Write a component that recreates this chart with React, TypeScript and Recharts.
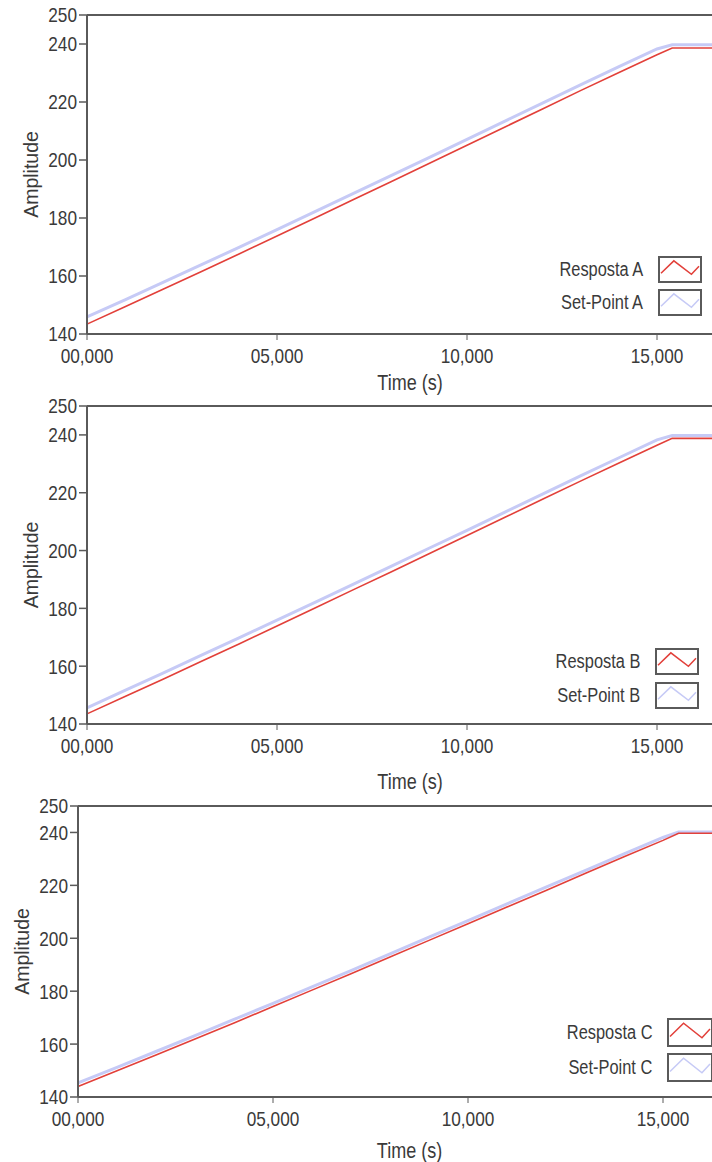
import React from 'react';
import { LineChart, Line, XAxis, YAxis, ReferenceLine, Legend } from 'recharts';

// Time axis (s)
const timeS = [0, 1, 2, 3, 4, 5, 6, 7, 8, 9, 10, 11, 12, 13, 14, 15, 15.4, 17];

const respostaA = [143.4, 149.4, 155.4, 161.5, 167.6, 173.8, 180.0, 186.3, 192.5, 198.8, 205.1, 211.4, 217.7, 224.0, 230.2, 236.3, 238.6, 238.6];
const setPointA = [145.9, 151.8, 157.8, 163.8, 169.9, 176.0, 182.2, 188.4, 194.6, 200.8, 207.1, 213.4, 219.7, 226.0, 232.2, 238.3, 239.7, 239.7];

const respostaB = [143.5, 149.5, 155.5, 161.6, 167.7, 173.9, 180.1, 186.4, 192.6, 198.9, 205.2, 211.5, 217.8, 224.1, 230.3, 236.4, 238.8, 238.8];
const setPointB = [145.6, 151.6, 157.6, 163.7, 169.8, 175.9, 182.1, 188.3, 194.5, 200.8, 207.0, 213.3, 219.6, 225.9, 232.1, 238.3, 239.8, 239.8];

const respostaC = [144.0, 149.9, 155.9, 161.9, 168.0, 174.2, 180.4, 186.6, 192.9, 199.2, 205.5, 211.8, 218.1, 224.5, 230.8, 237.0, 239.7, 239.7];
const setPointC = [145.3, 151.2, 157.2, 163.2, 169.3, 175.4, 181.6, 187.8, 194.1, 200.4, 206.7, 213.0, 219.3, 225.6, 231.9, 238.1, 240.2, 240.2];

const yTicks = [140, 160, 180, 200, 220, 240, 250];
const xTicks = [0, 5, 10, 15];
const xTickLabels = ['00,000', '05,000', '10,000', '15,000'];

const FONT = "'Liberation Sans', Arial, sans-serif";
const SQ = 0.82; // horizontal condensing of the lettering
const TEXT = '#3a3a3a';
const AXIS = '#5a5a5a';
const RED = '#e2403a';
const BLUE = '#c6caf6';

type PanelProps = {
  letter: string;
  resp: number[];
  sp: number[];
  top: number;
  width: number;
  height: number;
  marginTop: number;
  xAxisHeight: number;
  yWidth: number;
  timeOffset: number;
  ampX: number;
  legLeft: number;
  legTop: number;
  legPitch: number;
  legTextW: number;
  legBoxW: number;
  legBoxH: number;
};

const XTick = (props: any) => {
  const { x, y, payload } = props;
  const label = xTickLabels[xTicks.indexOf(payload.value)] ?? String(payload.value);
  return (
    <text transform={`translate(${x} ${y}) scale(${SQ} 1)`} textAnchor="middle" dy="0.71em" fill={TEXT} fontSize={21} fontFamily={FONT}>
      {label}
    </text>
  );
};

const YTick = (props: any) => {
  const { x, y, payload } = props;
  return (
    <text transform={`translate(${x} ${y}) scale(${SQ} 1)`} textAnchor="end" dy="0.355em" fill={TEXT} fontSize={21} fontFamily={FONT}>
      {payload.value}
    </text>
  );
};

const timeLabel = (offset: number) => (props: any) => {
  const vb = props.viewBox || {};
  const cx = vb.x + vb.width / 2;
  const cy = vb.y + vb.height - offset;
  return (
    <text transform={`translate(${cx} ${cy}) scale(${SQ} 1)`} textAnchor="middle" fill={TEXT} fontSize={22} fontFamily={FONT}>
      Time (s)
    </text>
  );
};

const ampLabel = (ax: number) => (props: any) => {
  const vb = props.viewBox || {};
  const cy = vb.y + vb.height / 2;
  return (
    <text transform={`translate(${ax} ${cy}) rotate(-90)`} textAnchor="middle" dy="0.36em" fill={TEXT} fontSize={19.5} fontFamily={FONT}>
      Amplitude
    </text>
  );
};

function makeLegend(p: PanelProps) {
  return (props: any) => {
    const items = [...(props.payload || [])].sort((a: any, b: any) => (a.value < b.value ? -1 : 1));
    return (
      <div style={{ fontFamily: FONT }}>
        {items.map((it: any, i: number) => (
          <div key={i} style={{ display: 'flex', alignItems: 'center', height: p.legPitch }}>
            <div style={{ width: p.legTextW - 15, marginRight: 15, textAlign: 'right', whiteSpace: 'nowrap', fontSize: 20, color: TEXT }}>
              <span style={{ display: 'inline-block', transform: `scaleX(${SQ})`, transformOrigin: '100% 50%' }}>{it.value}</span>
            </div>
            <svg width={p.legBoxW} height={p.legBoxH} style={{ display: 'block', flex: 'none' }}>
              <rect x={1} y={1} width={p.legBoxW - 2} height={p.legBoxH - 2} fill="#fff" stroke={AXIS} strokeWidth={2} />
              <polyline
                points={`3,${p.legBoxH * 0.64} ${p.legBoxW * 0.36},${p.legBoxH * 0.18} ${p.legBoxW * 0.76},${p.legBoxH * 0.68} ${p.legBoxW - 3},${p.legBoxH * 0.38}`}
                fill="none"
                stroke={it.color}
                strokeWidth={1.5}
              />
            </svg>
          </div>
        ))}
      </div>
    );
  };
}

function Panel(p: PanelProps) {
  const data = timeS.map((t, i) => ({ t, r: p.resp[i], s: p.sp[i] }));
  return (
    <div style={{ position: 'absolute', left: 0, top: p.top, width: p.width, height: p.height }}>
      <LineChart width={p.width} height={p.height} data={data} margin={{ top: p.marginTop, right: 0, bottom: 0, left: 0 }}>
        <XAxis
          dataKey="t"
          type="number"
          domain={[0, 17]}
          ticks={xTicks}
          height={p.xAxisHeight}
          axisLine={{ stroke: AXIS, strokeWidth: 2 }}
          tickLine={{ stroke: AXIS, strokeWidth: 1 }}
          tickSize={6}
          tickMargin={8}
          tick={<XTick />}
          label={{ content: timeLabel(p.timeOffset) }}
        />
        <YAxis
          type="number"
          domain={[140, 250]}
          ticks={yTicks}
          interval={0}
          width={p.yWidth}
          axisLine={{ stroke: AXIS, strokeWidth: 2 }}
          tickLine={{ stroke: AXIS, strokeWidth: 1.5 }}
          tickSize={8}
          tickMargin={2}
          tick={<YTick />}
          label={{ content: ampLabel(p.ampX) }}
        />
        <ReferenceLine y={250} stroke={AXIS} strokeWidth={2} />
        <Line name={`Set-Point ${p.letter}`} dataKey="s" type="linear" stroke={BLUE} strokeWidth={3} dot={false} isAnimationActive={false} />
        <Line name={`Resposta ${p.letter}`} dataKey="r" type="linear" stroke={RED} strokeWidth={1.6} dot={false} isAnimationActive={false} />
        <Legend
          layout="horizontal"
          verticalAlign="middle"
          align="center"
          content={makeLegend(p)}
          wrapperStyle={{ left: p.legLeft, top: p.legTop, width: 200, height: p.legPitch * 2 }}
        />
      </LineChart>
    </div>
  );
}

const panels: PanelProps[] = [
  {
    letter: 'A', resp: respostaA, sp: setPointA, top: 0, width: 733, height: 395, marginTop: 15, xAxisHeight: 61, yWidth: 87,
    timeOffset: 5, ampX: 31, legLeft: 533, legTop: 253, legPitch: 33, legTextW: 125, legBoxW: 44, legBoxH: 27,
  },
  {
    letter: 'B', resp: respostaB, sp: setPointB, top: 395, width: 733, height: 400, marginTop: 11, xAxisHeight: 71, yWidth: 87,
    timeOffset: 6, ampX: 31, legLeft: 528, legTop: 249, legPitch: 34, legTextW: 127, legBoxW: 44, legBoxH: 27,
  },
  {
    letter: 'C', resp: respostaC, sp: setPointC, top: 790, width: 741, height: 372, marginTop: 16, xAxisHeight: 65, yWidth: 78,
    timeOffset: 4, ampX: 22, legLeft: 541, legTop: 225, legPitch: 35, legTextW: 126, legBoxW: 46, legBoxH: 29,
  },
];

export default function App() {
  return (
    <div style={{ position: 'absolute', left: 0, top: 0, width: 712, height: 1162, overflow: 'hidden', background: '#fff' }}>
      {panels.map((p) => (
        <Panel key={p.letter} {...p} />
      ))}
    </div>
  );
}
